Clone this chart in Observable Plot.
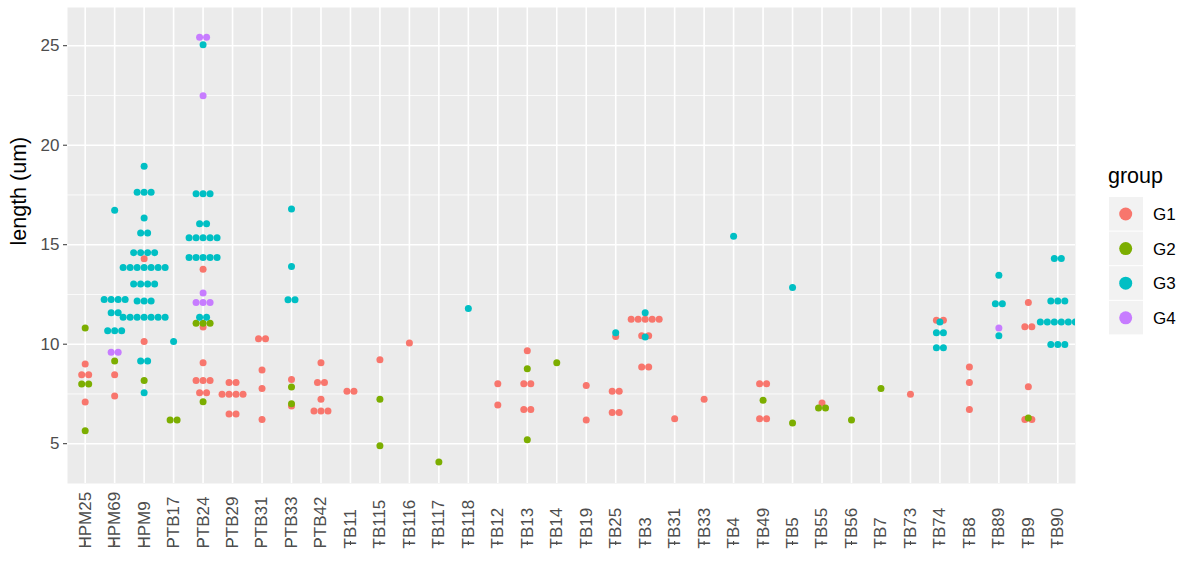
<!DOCTYPE html>
<html><head><meta charset="utf-8">
<script src="https://cdn.jsdelivr.net/npm/d3@7"></script>
<script src="https://cdn.jsdelivr.net/npm/@observablehq/plot@0.6"></script>
<style>
body{margin:0;background:#fff;font-family:"Liberation Sans",Arial,sans-serif;}
#wrap{position:relative;width:1184px;height:565px;overflow:hidden;}
#chart{position:absolute;left:0;top:0;}
#legend{position:absolute;left:1080px;top:0;}
</style></head><body>
<div id="wrap"><div id="chart"></div><svg id="legend" width="104" height="565"></svg></div>
<script>
const categories = ["HPM25","HPM69","HPM9","PTB17","PTB24","PTB29","PTB31","PTB33","PTB42","TB11","TB115","TB116","TB117","TB118","TB12","TB13","TB14","TB19","TB25","TB3","TB31","TB33","TB4","TB49","TB5","TB55","TB56","TB7","TB73","TB74","TB8","TB89","TB9","TB90"];
const groups = ["G1","G2","G3","G4"];
const groupColors = ["#F8766D","#7CAE00","#00BFC4","#C77CFF"];
const yTicks = [5,10,15,20,25];
const yMinor = [7.5,12.5,17.5,22.5];
const yTitle = "length (um)";
const legendTitle = "group";

// [category, length, count]
const g1 = [
  ["HPM25",9.0,1],["HPM25",8.47,2],["HPM25",7.09,1],
  ["HPM69",8.47,1],["HPM69",7.4,1],
  ["HPM9",14.3,1],["HPM9",10.14,1],
  ["PTB24",13.77,1],["PTB24",10.86,1],["PTB24",9.07,1],["PTB24",8.17,3],["PTB24",7.56,2],
  ["PTB29",8.08,2],["PTB29",7.48,4],["PTB29",6.49,2],
  ["PTB31",10.28,2],["PTB31",8.7,1],["PTB31",7.78,1],["PTB31",6.21,1],
  ["PTB33",8.23,1],["PTB33",6.9,1],
  ["PTB42",9.07,1],["PTB42",8.08,2],["PTB42",7.24,1],["PTB42",6.64,3],
  ["TB11",7.63,2],
  ["TB115",9.22,1],
  ["TB116",10.06,1],
  ["TB12",8.01,1],["TB12",6.94,1],
  ["TB13",9.67,1],["TB13",8.01,2],["TB13",6.72,2],
  ["TB19",7.93,1],["TB19",6.19,1],
  ["TB25",10.39,1],["TB25",7.63,2],["TB25",6.57,2],
  ["TB3",11.26,5],["TB3",10.43,2],["TB3",8.85,2],
  ["TB31",6.26,1],
  ["TB33",7.24,1],
  ["TB49",8.01,2],["TB49",6.26,2],
  ["TB55",7.04,1],
  ["TB73",7.48,1],
  ["TB74",11.2,2],
  ["TB8",8.85,1],["TB8",8.08,1],["TB8",6.72,1],
  ["TB9",12.1,1],["TB9",10.88,2],["TB9",7.86,1],["TB9",6.21,2]
];
const g2 = [
  ["HPM25",10.81,1],["HPM25",8.0,2],["HPM25",5.65,1],
  ["HPM69",9.15,1],
  ["HPM9",8.17,1],
  ["PTB17",6.19,2],
  ["PTB24",11.05,3],["PTB24",7.11,1],
  ["PTB33",7.85,1],["PTB33",7.01,1],
  ["TB115",7.24,1],["TB115",4.9,1],
  ["TB117",4.08,1],
  ["TB13",8.77,1],["TB13",5.2,1],
  ["TB14",9.07,1],
  ["TB49",7.18,1],
  ["TB5",6.04,1],
  ["TB55",6.79,2],
  ["TB56",6.19,1],
  ["TB7",7.78,1],
  ["TB9",6.29,1]
];
const g3 = [
  ["HPM69",16.73,1],["HPM69",12.25,4],["HPM69",11.58,2],["HPM69",10.68,3],
  ["HPM9",18.94,1],["HPM9",17.63,3],["HPM9",16.34,1],["HPM9",15.59,2],["HPM9",14.6,4],["HPM9",13.86,7],["HPM9",13.02,4],["HPM9",12.17,3],["HPM9",11.35,7],["HPM9",9.15,2],["HPM9",7.56,1],
  ["PTB17",10.14,1],
  ["PTB24",25.05,1],["PTB24",17.56,3],["PTB24",16.05,2],["PTB24",15.35,5],["PTB24",14.36,5],["PTB24",11.36,2],
  ["PTB33",16.79,1],["PTB33",13.91,1],["PTB33",12.24,2],
  ["TB118",11.8,1],
  ["TB25",10.58,1],
  ["TB3",11.58,1],["TB3",10.36,1],
  ["TB4",15.43,1],
  ["TB5",12.85,1],
  ["TB74",11.11,1],["TB74",10.58,2],["TB74",9.82,2],
  ["TB89",13.47,1],["TB89",12.03,2],["TB89",10.43,1],
  ["TB90",14.31,2],["TB90",12.17,3],["TB90",11.11,6],["TB90",9.99,3]
];
const g4 = [
  ["HPM69",9.6,2],
  ["PTB24",25.43,2],["PTB24",22.49,1],["PTB24",12.57,1],["PTB24",12.09,3],
  ["TB89",10.81,1]
];

const W = 1080, H = 565, ML = 67, MR = 5, MT = 7, MB = 82;
const xDomain = [-0.6, categories.length - 1 + 0.6];
const yDomain = [3.0, 26.92];

// expand rows into points, then centre each row (same category & length) around its category
const points = [];
[g1, g2, g3, g4].forEach((arr, gi) => arr.forEach(([c, v, n]) => {
  for (let k = 0; k < n; k++) points.push({category: c, length: v, group: groups[gi]});
}));
const pxPerUnit = (W - ML - MR) / (xDomain[1] - xDomain[0]);
const step = 7 / pxPerUnit;
for (const [c, byV] of d3.group(points, d => d.category, d => d.length)) {
  const ci = categories.indexOf(c);
  for (const [, row] of byV) row.forEach((p, j) => { p.pos = ci + (j - (row.length - 1) / 2) * step; });
}

const chart = Plot.plot({
  width: W, height: H,
  marginLeft: ML, marginRight: MR, marginTop: MT, marginBottom: MB,
  style: {fontFamily: '"Liberation Sans", Arial, sans-serif', background: "transparent"},
  x: {type: "linear", domain: xDomain},
  y: {domain: yDomain},
  color: {domain: groups, range: groupColors},
  marks: [
    Plot.frame({fill: "#EBEBEB", stroke: null}),
    Plot.ruleY(yMinor, {stroke: "white", strokeWidth: 0.8}),
    Plot.ruleY(yTicks, {stroke: "white", strokeWidth: 1.6}),
    Plot.ruleX(d3.range(categories.length), {stroke: "white", strokeWidth: 1.6}),
    Plot.dot(points, {x: "pos", y: "length", fill: "group", r: 3.5, stroke: null, clip: true}),
    Plot.axisY({ticks: yTicks, tickSize: 4, tickPadding: 4, fontSize: 17, fill: "#4D4D4D", stroke: "#333333", label: null}),
    Plot.axisX({ticks: d3.range(categories.length), tickFormat: i => categories[i], tickSize: 4, tickPadding: 3,
      tickRotate: -90, textAnchor: "start", lineAnchor: "middle", dy: 58, fontSize: 17, fill: "#4D4D4D", stroke: "#333333", label: null}),
    Plot.text([yTitle], {frameAnchor: "left", rotate: -90, dx: -48, fontSize: 21.5, fill: "black"})
  ]
});
document.getElementById("chart").appendChild(chart);

// legend
const lg = d3.select("#legend").style("font-family", '"Liberation Sans", Arial, sans-serif');
lg.append("text").attr("x", 28).attr("y", 183).attr("font-size", 21.5).attr("fill", "black").text(legendTitle);
groups.forEach((g, i) => {
  const y0 = 197 + i * 34.6;
  lg.append("rect").attr("x", 29).attr("y", y0).attr("width", 34).attr("height", 33.6).attr("fill", "#F2F2F2");
  lg.append("circle").attr("cx", 45.7).attr("cy", y0 + 17).attr("r", 6.5).attr("fill", groupColors[i]);
  lg.append("text").attr("x", 73).attr("y", y0 + 17).attr("dy", "0.36em").attr("font-size", 17).attr("fill", "black").text(g);
});
</script></body></html>
